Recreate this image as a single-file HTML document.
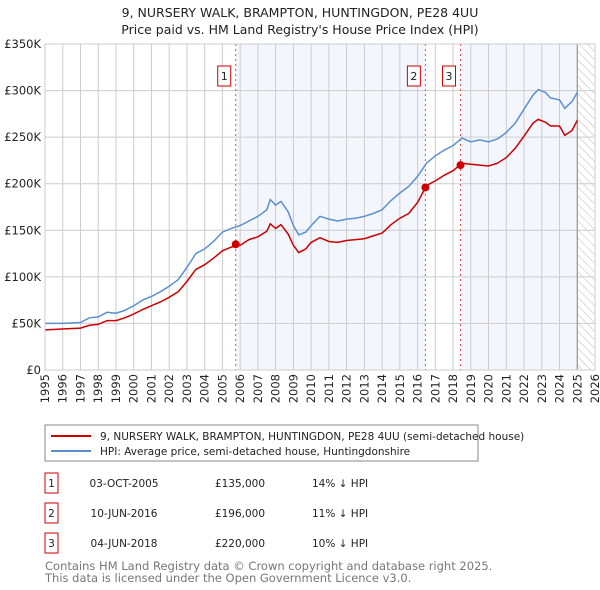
<!DOCTYPE html>
<html><head><meta charset="utf-8"><style>
body{margin:0;background:#fff;width:600px;height:590px;overflow:hidden;font-family:"Liberation Sans","DejaVu Sans",sans-serif}
svg{display:block}
</style></head><body>
<svg id="c" width="600" height="590" xmlns="http://www.w3.org/2000/svg" font-family="DejaVu Sans, Liberation Sans, sans-serif">
<defs><pattern id="hatch" width="6" height="6" patternUnits="userSpaceOnUse" patternTransform="rotate(-45)"><line x1="0" y1="0" x2="0" y2="6" stroke="#bbb" stroke-width="1"/></pattern></defs>
<text x="300" y="17" text-anchor="middle" font-size="12.5" fill="#222">9, NURSERY WALK, BRAMPTON, HUNTINGDON, PE28 4UU</text>
<text x="300" y="34" text-anchor="middle" font-size="12.5" fill="#222">Price paid vs. HM Land Registry's House Price Index (HPI)</text>
<g id="plot"></g>
<g>
<rect x="45" y="425" width="433" height="36" fill="#fff" stroke="#888"/>
<line x1="51" y1="436" x2="91" y2="436" stroke="#cc0000" stroke-width="2"/>
<text x="100" y="440" font-size="10.5" fill="#222">9, NURSERY WALK, BRAMPTON, HUNTINGDON, PE28 4UU (semi-detached house)</text>
<line x1="51" y1="451" x2="91" y2="451" stroke="#5b8fd0" stroke-width="2"/>
<text x="100" y="455" font-size="10.5" fill="#222">HPI: Average price, semi-detached house, Huntingdonshire</text>
</g>
<g id="table" font-size="10.5" fill="#222"></g>
<text x="45" y="570" font-size="11.5" fill="#777">Contains HM Land Registry data © Crown copyright and database right 2025.</text>
<text x="45" y="582" font-size="11.5" fill="#777">This data is licensed under the Open Government Licence v3.0.</text>
</svg>
<script>
const hpiYears=[1995,1996,1997,1997.5,1998,1998.5,1999,1999.5,2000,2000.5,2001,2001.5,2002,2002.5,2003,2003.5,2004,2004.5,2005,2005.5,2006,2006.5,2007,2007.5,2007.7,2008,2008.3,2008.7,2009,2009.3,2009.7,2010,2010.5,2011,2011.5,2012,2012.5,2013,2013.5,2014,2014.5,2015,2015.5,2016,2016.5,2017,2017.5,2018,2018.5,2019,2019.5,2020,2020.5,2021,2021.5,2022,2022.5,2022.8,2023.2,2023.5,2024,2024.3,2024.7,2025];
const hpiValues=[50,50,51,56,57,62,61,64,69,75,79,84,90,97,110,125,130,138,148,152,155,160,165,172,183,177,181,170,155,145,148,155,165,162,160,162,163,165,168,172,182,190,197,208,222,230,236,241,249,245,247,245,248,255,265,280,295,301,298,292,290,281,288,298];
const priceValues=[43,44,45,48,49,53,53,56,60,65,69,73,78,84,95,108,113,120,128,132,134,140,143,149,157,152,156,146,134,126,130,137,142,138,137,139,140,141,144,147,156,163,168,180,198,203,209,214,222,221,220,219,222,228,238,251,265,269,266,262,262,252,257,268];
const saleYears=[2005.75,2016.44,2018.42];
const salePrices=[135,196,220];
const saleDates=["03-OCT-2005","10-JUN-2016","04-JUN-2018"];
const salePriceLabels=["£135,000","£196,000","£220,000"];
const saleDiffs=["14% ↓ HPI","11% ↓ HPI","10% ↓ HPI"];
const yTicks=[0,50,100,150,200,250,300,350];
const yTickLabels=["£0","£50K","£100K","£150K","£200K","£250K","£300K","£350K"];
const xTicks=[1995,1996,1997,1998,1999,2000,2001,2002,2003,2004,2005,2006,2007,2008,2009,2010,2011,2012,2013,2014,2015,2016,2017,2018,2019,2020,2021,2022,2023,2024,2025,2026];

const NS="http://www.w3.org/2000/svg";
const L=45,R=595,T=44,B=370;
const x=y=>L+(y-1995)/(2026-1995)*(R-L);
const yv=v=>B-v/350*(B-T);
function mk(tag,attrs,parent){const e=document.createElementNS(NS,tag);for(const k in attrs)e.setAttribute(k,attrs[k]);parent.appendChild(e);return e;}
const g=document.getElementById('plot');
// shading
let s=mk('rect',{x:x(saleYears[0]),y:T,width:x(saleYears[1])-x(saleYears[0]),height:B-T,fill:'#eef3fc',opacity:0.7},g);


s=mk('rect',{x:x(saleYears[2]),y:T,width:x(2025)-x(saleYears[2]),height:B-T,fill:'#eef3fc',opacity:0.7},g);


s=mk('rect',{x:x(2025),y:T,width:R-x(2025),height:B-T,fill:'url(#hatch)'},g);


// grid
xTicks.forEach(t=>{
 const l=mk('line',{x1:x(t),x2:x(t),y1:T,y2:B,stroke:'#ccc','stroke-width':1},g);
 
 
 const tx=mk('text',{x:0,y:0,transform:`translate(${x(t)+4},${B+4}) rotate(-90)`,'text-anchor':'end','font-size':11.5,fill:'#222'},g);
 
 
 tx.textContent=t;
});
yTicks.forEach((t,i)=>{
 const l=mk('line',{x1:L,x2:R,y1:yv(t),y2:yv(t),stroke:'#ccc','stroke-width':1},g);
 
 
 const tx=mk('text',{x:L-4,y:yv(t)+4,'text-anchor':'end','font-size':11.5,fill:'#222'},g);
 
 
 tx.textContent=yTickLabels[i];
});
let vl=mk('line',{x1:x(2025),x2:x(2025),y1:T,y2:B,stroke:'#888','stroke-width':1},g);


// sale lines
saleYears.forEach((sy,i)=>{
 const l=mk('line',{x1:x(sy),x2:x(sy),y1:T,y2:B,stroke:'#e05050','stroke-width':1,'stroke-dasharray':'2,3'},g);
 
 
 const bx=mk('rect',{x:x(sy)-18,y:66,width:13,height:20,fill:'#fff',stroke:'#cc0000'},g);
 
 
 const t=mk('text',{x:x(sy)-11.5,y:80,'text-anchor':'middle','font-size':11,fill:'#222'},g);
 
 
 t.textContent=i+1;
});
// lines
const path=(ys,vs)=>ys.map((yy,i)=>(i?'L':'M')+x(yy).toFixed(1)+' '+yv(vs[i]).toFixed(1)).join(' ');
let p=mk('path',{d:path(hpiYears,hpiValues),fill:'none',stroke:'#5b8fd0','stroke-width':1.5},g);


p=mk('path',{d:path(hpiYears,priceValues),fill:'none',stroke:'#cc0000','stroke-width':1.5},g);


saleYears.forEach((sy,i)=>{
 const c=mk('circle',{cx:x(sy),cy:yv(salePrices[i]),r:4,fill:'#cc0000'},g);
 
 
});
let fr=mk('rect',{x:L,y:T,width:R-L,height:B-T,fill:'none',stroke:'#ccc'},g);


// table
const tb=document.getElementById('table');
const rowsY=[483,513,543];
saleYears.forEach((sy,i)=>{
 const cy=rowsY[i];
 const b=mk('rect',{x:45,y:cy-10,width:13,height:20,fill:'#fff',stroke:'#cc0000'},tb);
 
 
 const cells=[[51.5,'middle',String(i+1)],[124,'middle',saleDates[i]],[240,'middle',salePriceLabels[i]],[312,'start',saleDiffs[i]]];
 const names=['table-index','table-date','table-price','table-hpi-diff'];
 cells.forEach((c,j)=>{
  const t=mk('text',{x:c[0],y:cy+4,'text-anchor':c[1],fill:'#222'},tb);
  
  
  t.textContent=c[2];
 });
});
</script>
</body></html>
